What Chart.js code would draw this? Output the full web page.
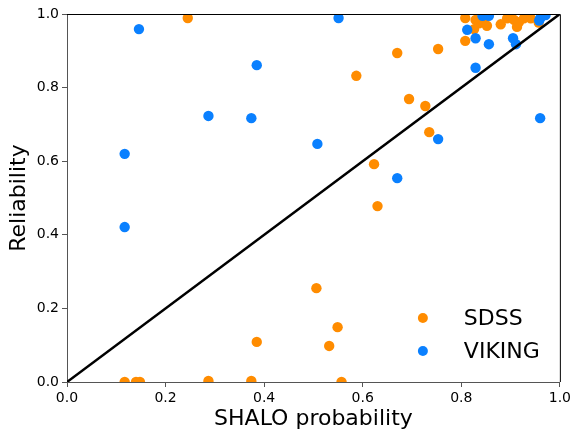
<!DOCTYPE html>
<html>
<head>
<meta charset="utf-8">
<script src="https://cdn.jsdelivr.net/npm/chart.js@4/dist/chart.umd.min.js"></script>
<style>
html,body{margin:0;padding:0;background:#fff;}
#wrap{width:574px;height:432px;position:relative;}
</style>
</head>
<body>
<div id="wrap"><canvas id="c" width="574" height="432"></canvas></div>
<script>
// ---- data ----
const sdssX = [0.245,0.117,0.140,0.148,0.287,0.374,0.385,0.506,0.532,0.549,0.557,0.587,0.623,0.630,0.670,0.694,0.727,0.735,0.753,
  0.808,0.829,0.836,0.844,0.826,0.808,0.880,0.893,0.901,0.907,0.913,0.927,0.935,0.941,0.957,0.917,0.852];
const sdssY = [0.989,0.000,0.000,0.000,0.003,0.003,0.109,0.255,0.098,0.149,0.000,0.832,0.592,0.478,0.894,0.769,0.750,0.679,0.905,
  0.989,0.984,0.975,0.984,0.959,0.927,0.972,0.988,0.993,0.984,0.965,0.988,0.993,0.988,0.977,0.978,0.968];
const vikingX = [0.146,0.117,0.117,0.287,0.374,0.385,0.508,0.551,0.670,0.753,0.829,0.812,0.829,0.856,0.843,0.856,0.905,0.911,0.960,0.960,0.971,0.958];
const vikingY = [0.959,0.620,0.421,0.723,0.717,0.861,0.647,0.989,0.554,0.660,0.854,0.957,0.934,0.918,0.995,0.995,0.934,0.918,0.717,0.988,0.997,0.982];
const diagX = [0, 1];
const diagY = [0, 1];
const tickValues = [0.0, 0.2, 0.4, 0.6, 0.8, 1.0];
const seriesNames = ["SDSS", "VIKING"];
const xTitle = "SHALO probability";
const yTitle = "Reliability";

const ORANGE = "#ff8c00", BLUE = "#0a80ff";
const toPts = (xs, ys) => xs.map((x, i) => ({x: x, y: ys[i]}));
const FONT = "'DejaVu Sans', sans-serif";

const framePlugin = {
  id: 'frame',
  afterDatasetsDraw(chart) {
    const a = chart.chartArea, ctx = chart.ctx;
    ctx.save();
    ctx.strokeStyle = '#000';
    ctx.lineWidth = 1;
    ctx.beginPath();
    ctx.moveTo(a.left, a.top + 0.5); ctx.lineTo(a.right + 0.5, a.top + 0.5);
    ctx.lineTo(a.right + 0.5, a.bottom);
    ctx.stroke();
    // legend
    const ds = [chart.data.datasets[2], chart.data.datasets[1]];
    const mx = a.right - 137, tx = a.right - 96;
    ds.forEach((d, i) => {
      const y = a.bottom - 64 + i * 33;
      ctx.fillStyle = d.backgroundColor;
      ctx.beginPath(); ctx.arc(mx, y, 5, 0, Math.PI * 2); ctx.fill();
      ctx.fillStyle = '#000';
      ctx.font = "22px " + FONT;
      ctx.textAlign = 'left'; ctx.textBaseline = 'middle';
      ctx.fillText(d.label, tx, y + 1);
    });
    ctx.restore();
  }
};

new Chart(document.getElementById('c'), {
  type: 'scatter',
  data: {
    datasets: [
      { type: 'line', label: 'diag', data: toPts(diagX, diagY), borderColor: '#000', borderWidth: 2.5,
        pointRadius: 0, fill: false, order: 0, clip: 0 },
      { label: seriesNames[1], data: toPts(vikingX, vikingY), backgroundColor: BLUE, borderColor: BLUE,
        borderWidth: 0, pointRadius: 5.2, order: 1, clip: 0 },
      { label: seriesNames[0], data: toPts(sdssX, sdssY), backgroundColor: ORANGE, borderColor: ORANGE,
        borderWidth: 0, pointRadius: 5.2, order: 2, clip: 0 }
    ]
  },
  options: {
    responsive: false,
    animation: false,
    layout: { padding: { top: 14, right: 13, left: 0, bottom: 0 } },
    plugins: { legend: { display: false }, tooltip: { enabled: false } },
    scales: {
      x: {
        type: 'linear', min: 0, max: 1,
        afterBuildTicks: s => { s.ticks = tickValues.map(v => ({value: v})); },
        afterFit: s => { s.height = 50; },
        grid: { drawOnChartArea: false, drawTicks: true, tickLength: 5, color: '#555', tickWidth: 1 },
        border: { color: '#555', width: 1 },
        ticks: { color: '#000', font: { family: FONT, size: 14 }, padding: 3, maxRotation: 0,
                 callback: v => Number(v).toFixed(1) },
        title: { display: true, text: xTitle, color: '#000', font: { family: FONT, size: 22 }, padding: { top: -1, bottom: 0 } }
      },
      y: {
        type: 'linear', min: 0, max: 1,
        afterBuildTicks: s => { s.ticks = tickValues.map(v => ({value: v})); },
        afterFit: s => { s.width = 67; },
        grid: { drawOnChartArea: false, drawTicks: true, tickLength: 5, color: '#555', tickWidth: 1 },
        border: { color: '#555', width: 1 },
        ticks: { color: '#000', font: { family: FONT, size: 14 }, padding: 3,
                 callback: v => Number(v).toFixed(1) },
        title: { display: true, text: yTitle, color: '#000', font: { family: FONT, size: 22 }, padding: { top: 6, bottom: 0 } }
      }
    }
  },
  plugins: [framePlugin]
});
</script>
</body>
</html>
